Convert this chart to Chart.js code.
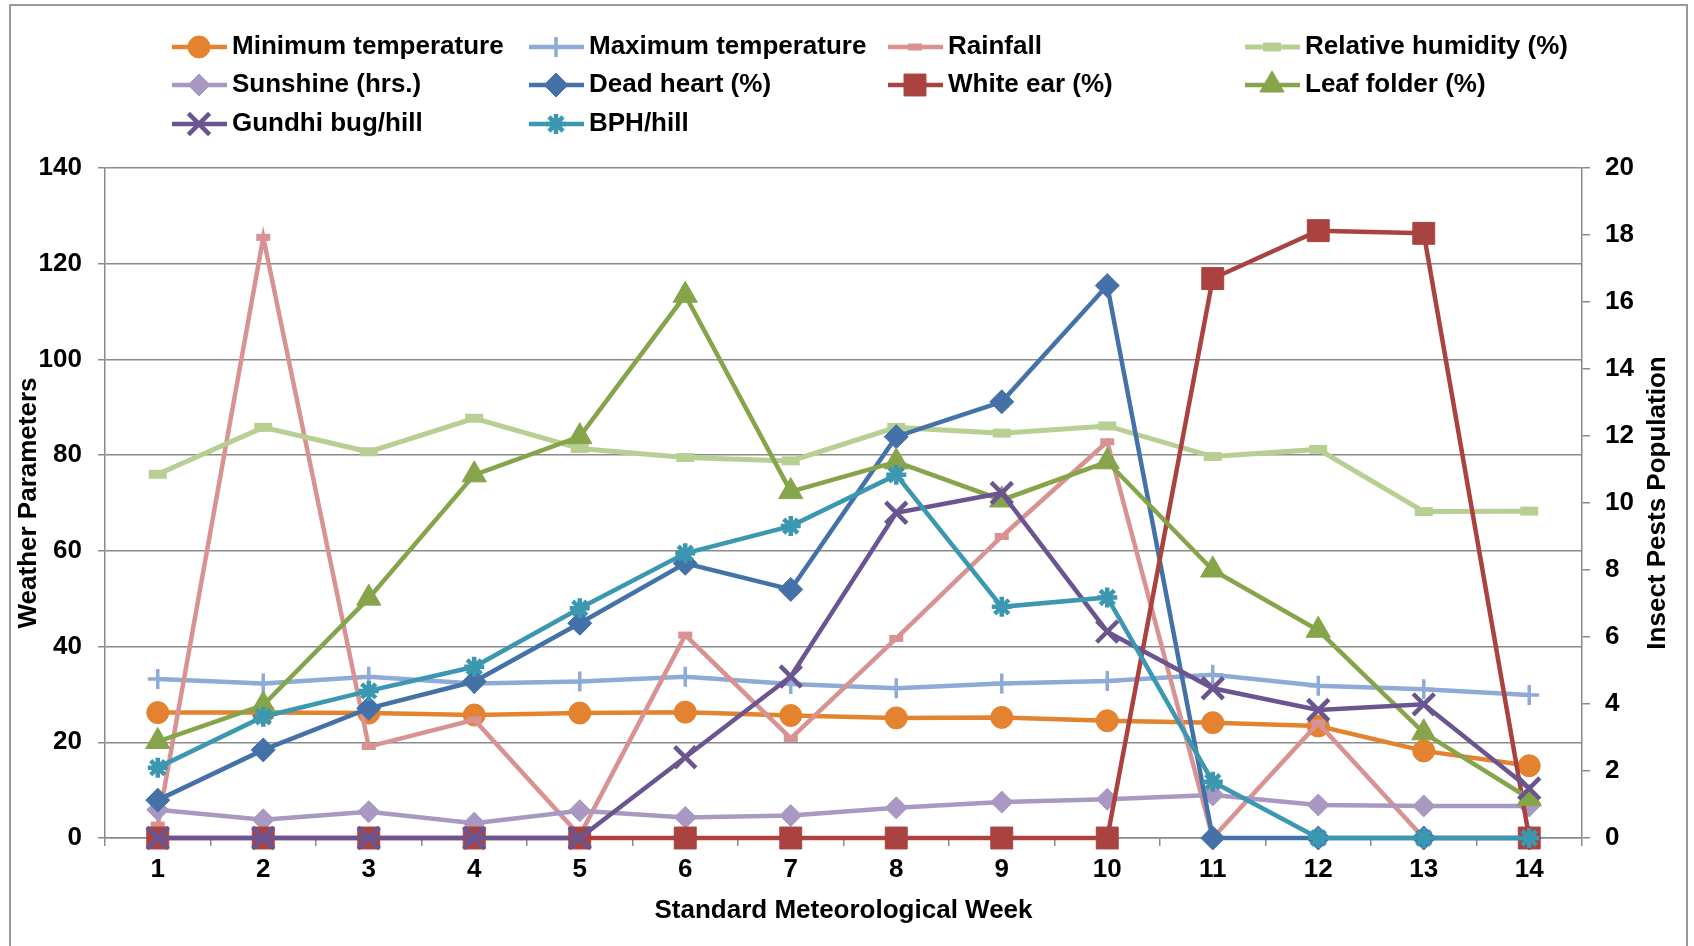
<!DOCTYPE html>
<html>
<head>
<meta charset="utf-8">
<title>Weather parameters and insect pests</title>
<script src="https://cdn.jsdelivr.net/npm/chart.js@4.4.0/dist/chart.umd.min.js"></script>
<style>
    html, body { margin: 0; padding: 0; background: #ffffff; }
    #wrap { width: 1694px; height: 946px; }
</style>
</head>
<body>
<div id="wrap"><canvas id="pestChart" width="1694" height="946"></canvas></div>
<script>
// Standard meteorological weeks
const weeks = ["1", "2", "3", "4", "5", "6", "7", "8", "9", "10", "11", "12", "13", "14"];

// Weather parameters (left axis)
const minTemp  = [26.2, 26.2, 26.1, 25.7, 26.1, 26.3, 25.6, 25.1, 25.2, 24.5, 24.1, 23.4, 18.2, 15.1];
const maxTemp  = [33.2, 32.3, 33.7, 32.3, 32.7, 33.7, 32.2, 31.3, 32.3, 32.8, 34.1, 31.8, 31.1, 29.9];
const rainfall = [2.7, 125.5, 19.1, 24.7, 0.5, 42.4, 20.8, 41.7, 63.0, 82.8, 0, 24.0, 0, 0];
const humidity = [76.0, 85.8, 80.7, 87.7, 81.4, 79.5, 78.8, 85.8, 84.6, 86.1, 79.7, 81.2, 68.2, 68.3];
const sunshine = [5.9, 3.8, 5.5, 3.1, 5.7, 4.3, 4.7, 6.3, 7.5, 8.1, 9.0, 6.9, 6.7, 6.7];

// Insect pests (right axis)
const deadHeart  = [1.13, 2.63, 3.87, 4.67, 6.41, 8.2, 7.42, 11.98, 13.02, 16.49, 0, 0, 0, 0];
const whiteEar   = [0, 0, 0, 0, 0, 0, 0, 0, 0, 0, 16.7, 18.13, 18.05, 0];
const leafFolder = [2.88, 3.97, 7.16, 10.84, 11.98, 16.2, 10.34, 11.23, 10.09, 11.23, 8.0, 6.2, 3.14, 1.18];
const gundhiBug  = [0, 0, 0, 0, 0, 2.41, 4.82, 9.71, 10.3, 6.16, 4.47, 3.82, 3.99, 1.48];
const bph        = [2.1, 3.62, 4.39, 5.11, 6.86, 8.5, 9.31, 10.84, 6.9, 7.18, 1.68, 0, 0, 0];

const FONT = '"Liberation Sans", Arial, sans-serif';
const FONT_SIZE = 26;

function series(label, data, color, axis, style, radius, pointBorder, lineWidth) {
    return {
        label: label,
        data: data,
        yAxisID: axis,
        borderColor: color,
        backgroundColor: color,
        borderWidth: lineWidth || 4.5,
        tension: 0,
        clip: false,
        pointStyle: style,
        pointRadius: radius,
        pointBackgroundColor: color,
        pointBorderColor: color,
        pointBorderWidth: pointBorder
    };
}

const datasets = [
    series("Minimum temperature", minTemp, "#e3822f", "y", "circle", 11, 1),
    series("Maximum temperature", maxTemp, "#8eaad6", "y", "cross", 10, 3.5),
    series("Rainfall", rainfall, "#d79291", "y", "line", 7, 7),
    series("Relative humidity (%)", humidity, "#b8cf94", "y", "line", 9, 9, 5),
    series("Sunshine (hrs.)", sunshine, "#a898c2", "y", "rectRot", 11, 1),
    series("Dead heart (%)", deadHeart, "#4472a8", "y1", "rectRot", 12, 1),
    series("White ear (%)", whiteEar, "#aa4340", "y1", "rect", 15.5, 1),
    series("Leaf folder (%)", leafFolder, "#86a44a", "y1", "triangle", 14, 1),
    series("Gundhi bug/hill", gundhiBug, "#6b5590", "y1", "crossRot", 15, 4.5),
    series("BPH/hill", bph, "#3c97b0", "y1", "star", 10, 4.5)
];

// later series are painted on top, like the spreadsheet
datasets.forEach((d, i) => { d.order = datasets.length - i; });

// white page with the grey chart frame
const framePlugin = {
    id: "frame",
    beforeDraw(chart) {
        const ctx = chart.ctx;
        ctx.save();
        ctx.fillStyle = "#ffffff";
        ctx.fillRect(0, 0, chart.width, chart.height);
        ctx.strokeStyle = "#9a9a9a";
        ctx.lineWidth = 2;
        ctx.strokeRect(10, 5, 1677, 1000);
        ctx.restore();
    }
};

// right axis title reads bottom-to-top, same as the left one
const rightTitle = {
    id: "rightTitle",
    afterDraw(chart) {
        const ctx = chart.ctx;
        const area = chart.chartArea;
        ctx.save();
        ctx.translate(1658, (area.top + area.bottom) / 2);
        ctx.rotate(-Math.PI / 2);
        ctx.fillStyle = "#000000";
        ctx.font = "bold " + FONT_SIZE + "px " + FONT;
        ctx.textAlign = "center";
        ctx.textBaseline = "middle";
        ctx.fillText("Insect Pests Population", 0, 0);
        ctx.restore();
    }
};

// legend laid out in four fixed columns
const gridLegend = {
    id: "gridLegend",
    afterDraw(chart) {
        const ctx = chart.ctx;
        const colX = [172, 529, 888, 1245];
        const rowY = [47, 85, 124];
        chart.data.datasets.forEach((ds, i) => {
            const x = colX[i % 4];
            const y = rowY[Math.floor(i / 4)];
            ctx.save();
            ctx.strokeStyle = ds.borderColor;
            ctx.lineWidth = ds.borderWidth;
            ctx.beginPath();
            ctx.moveTo(x, y);
            ctx.lineTo(x + 55, y);
            ctx.stroke();
            ctx.fillStyle = ds.pointBackgroundColor;
            ctx.strokeStyle = ds.pointBorderColor;
            ctx.lineWidth = ds.pointBorderWidth;
            Chart.helpers.drawPoint(ctx, {
                pointStyle: ds.pointStyle,
                radius: ds.pointRadius,
                borderWidth: ds.pointBorderWidth,
                rotation: 0
            }, x + 27, y);
            ctx.fillStyle = "#000000";
            ctx.font = "bold " + FONT_SIZE + "px " + FONT;
            ctx.textBaseline = "middle";
            ctx.textAlign = "left";
            ctx.fillText(ds.label, x + 60, y);
            ctx.restore();
        });
    }
};

const gridColor = "#8a8a8a";
const tickFont = { family: FONT, size: FONT_SIZE, weight: "bold" };

new Chart(document.getElementById("pestChart"), {
    type: "line",
    data: { labels: weeks, datasets: datasets },
    options: {
        responsive: false,
        devicePixelRatio: 1,
        animation: false,
        layout: { padding: { top: 168, left: 0, right: 0, bottom: 0 } },
        plugins: {
            legend: { display: false },
            tooltip: { enabled: false }
        },
        scales: {
            x: {
                type: "category",
                offset: true,
                grid: { drawOnChartArea: false, drawTicks: true, tickLength: 8, offset: true, color: gridColor, lineWidth: 1.5 },
                border: { color: gridColor, width: 1.5 },
                ticks: { color: "#000000", font: tickFont, padding: 8, maxRotation: 0 },
                title: { display: true, text: "Standard Meteorological Week", color: "#000000", font: tickFont, padding: { top: 0, bottom: 20 } },
                afterFit: scale => { scale.height = 108; }
            },
            y: {
                position: "left",
                min: 0,
                max: 140,
                ticks: { stepSize: 20, color: "#000000", font: tickFont, padding: 16 },
                grid: { color: gridColor, lineWidth: 1.5, tickLength: 7 },
                border: { color: gridColor, width: 1.5 },
                title: { display: true, text: "Weather Parameters", color: "#000000", font: tickFont, padding: { top: 13, bottom: 0 } },
                afterFit: scale => { scale.width = 105; }
            },
            y1: {
                position: "right",
                min: 0,
                max: 20,
                ticks: { stepSize: 2, color: "#000000", font: tickFont, padding: 15 },
                grid: { drawOnChartArea: false, color: gridColor, lineWidth: 1.5, tickLength: 8 },
                border: { color: gridColor, width: 1.5 },
                afterFit: scale => { scale.width = 112; }
            }
        }
    },
    plugins: [framePlugin, rightTitle, gridLegend]
});
</script>
</body>
</html>
